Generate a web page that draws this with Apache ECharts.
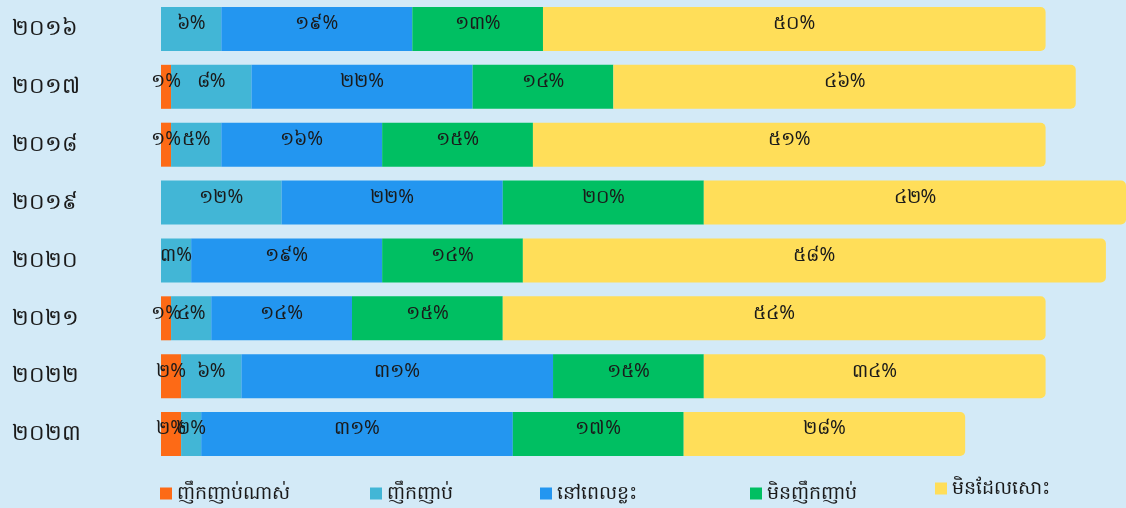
<!DOCTYPE html>
<html>
<head>
<meta charset="utf-8">
<script src="https://cdn.jsdelivr.net/npm/echarts@6/dist/echarts.min.js"></script>
<style>
html,body{margin:0;padding:0;background:#d3eaf7;}
#c{width:1126px;height:508px;}
</style>
</head>
<body>
<div id="c"></div>
<script>
const years = ['២០១៦','២០១៧','២០១៨','២០១៩','២០២០','២០២១','២០២២','២០២៣'];
const seriesNames = ['ញឹកញាប់ណាស់','ញឹកញាប់','នៅពេលខ្លះ','មិនញឹកញាប់','មិនដែលសោះ'];
const veryOften = [0, 1, 1, 0, 0, 1, 2, 2];
const often     = [6, 8, 5, 12, 3, 4, 6, 2];
const sometimes = [19, 22, 16, 22, 19, 14, 31, 31];
const rarely    = [13, 14, 15, 20, 14, 15, 15, 17];
const never     = [50, 46, 51, 42, 58, 54, 34, 28];
const colors = ['#fd6a16','#42b6d6','#2396f0','#00bf62','#ffde59'];
const legendLeft = [160, 370, 540, 750, 935];
const legendTop = [484, 484, 484, 484, 479];

const khmerDigits = ['០','១','២','៣','៤','៥','៦','៧','៨','៩'];
function toKhmer(n){ return String(n).split('').map(d => khmerDigits[+d] || d).join(''); }

const allData = [veryOften, often, sometimes, rarely, never];
const fontFam = 'Noto Sans, DejaVu Sans, sans-serif';

const series = allData.map((arr, i) => ({
  name: seriesNames[i],
  type: 'bar',
  stack: 'total',
  barWidth: 44,
  data: arr.map(v => v === 0 ? null : v),
  itemStyle: {
    color: colors[i],
    borderRadius: i === 4 ? [0, 5, 5, 0] : 0
  },
  label: {
    show: true,
    position: 'inside',
    offset: [0, -5],
    color: '#1a1a1a',
    fontSize: 19,
    fontFamily: fontFam,
    formatter: p => toKhmer(p.value) + '%'
  }
}));

const legends = seriesNames.map((n, i) => ({
  data: [n],
  left: legendLeft[i],
  top: legendTop[i],
  padding: 0,
  itemWidth: 12,
  itemHeight: 12,
  itemGap: 6,
  icon: 'rect',
  textStyle: { fontSize: 19, color: '#1a1a1a', fontFamily: fontFam },
  selectedMode: false
}));

const chart = echarts.init(document.getElementById('c'));
chart.setOption({
  backgroundColor: '#d3eaf7',
  animation: false,
  color: colors,
  grid: { left: 161, top: 0, width: 967, height: 463, containLabel: false },
  xAxis: { type: 'value', min: 0, max: 96, show: false },
  yAxis: {
    type: 'category',
    data: years,
    inverse: true,
    axisLine: { show: false },
    axisTick: { show: false },
    axisLabel: {
      align: 'left',
      margin: 149,
      fontSize: 22,
      color: '#1a1a1a',
      fontFamily: fontFam
    }
  },
  legend: legends,
  series: series
});
</script>
</body>
</html>
